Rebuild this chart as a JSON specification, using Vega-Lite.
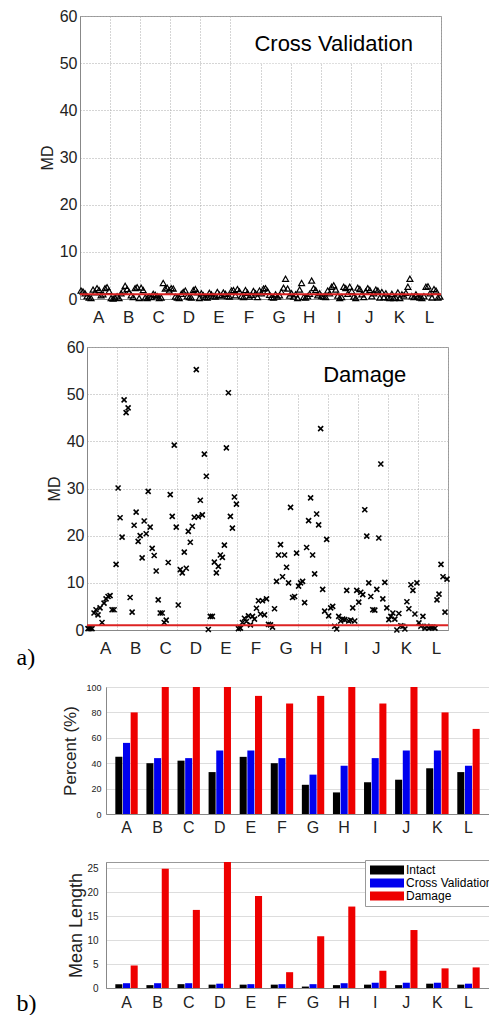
{
"$schema": "https://vega.github.io/schema/vega-lite/v6.json",
"padding": {"top": 7, "left": 15, "right": 0, "bottom": 0},
"spacing": 12,
"config": {
  "font": "Liberation Sans",
  "view": {"stroke": "#999", "strokeWidth": 1},
  "axis": {"labelFont": "Liberation Sans", "titleFont": "Liberation Sans", "labelColor": "#222", "titleColor": "#222", "titleFontWeight": "normal", "domainColor": "#888"}
},
"resolve": {"scale": {"color": "independent"}, "legend": {"color": "independent"}},
"datasets": {
"cv": [
{"x":0,"y":1.8},{"x":1,"y":1.6},{"x":2,"y":1.2},{"x":3,"y":0.6},{"x":4,"y":0.3},{"x":5,"y":0.2},{"x":6,"y":2.0},{"x":7,"y":1.4},{"x":8,"y":2.3},{"x":9,"y":1.9},{"x":10,"y":0.8},{"x":11,"y":1.0},{"x":12,"y":2.3},{"x":13,"y":2.5},{"x":14,"y":1.7},
{"x":15,"y":0.2},{"x":16,"y":0.1},{"x":17,"y":0.3},{"x":18,"y":0.6},{"x":19,"y":0.2},{"x":20,"y":1.2},{"x":21,"y":1.8},{"x":22,"y":2.8},{"x":23,"y":2.1},{"x":24,"y":1.5},{"x":25,"y":0.8},{"x":26,"y":0.4},{"x":27,"y":2.3},{"x":28,"y":2.5},{"x":29,"y":0.2},
{"x":30,"y":2.4},{"x":31,"y":1.9},{"x":32,"y":0.3},{"x":33,"y":0.2},{"x":34,"y":0.5},{"x":35,"y":0.4},{"x":36,"y":1.1},{"x":37,"y":0.9},{"x":38,"y":0.6},{"x":39,"y":0.2},{"x":40,"y":0.3},{"x":41,"y":3.4},{"x":42,"y":2.2},{"x":43,"y":2.4},{"x":44,"y":1.8},
{"x":45,"y":2.3},{"x":46,"y":2.2},{"x":47,"y":0.5},{"x":48,"y":0.3},{"x":49,"y":0.2},{"x":50,"y":1.1},{"x":51,"y":1.5},{"x":52,"y":1.8},{"x":53,"y":0.6},{"x":54,"y":0.4},{"x":55,"y":0.3},{"x":56,"y":1.9},{"x":57,"y":2.1},{"x":58,"y":1.4},{"x":59,"y":0.2},
{"x":60,"y":1.2},{"x":61,"y":0.8},{"x":62,"y":0.4},{"x":63,"y":0.3},{"x":64,"y":1.3},{"x":65,"y":1.0},{"x":66,"y":0.6},{"x":67,"y":0.5},{"x":68,"y":1.5},{"x":69,"y":0.9},{"x":70,"y":0.7},{"x":71,"y":1.4},{"x":72,"y":1.1},{"x":73,"y":0.6},{"x":74,"y":0.5},
{"x":75,"y":1.8},{"x":76,"y":1.9},{"x":77,"y":0.8},{"x":78,"y":2.1},{"x":79,"y":1.6},{"x":80,"y":0.6},{"x":81,"y":0.4},{"x":82,"y":1.9},{"x":83,"y":1.3},{"x":84,"y":0.5},{"x":85,"y":0.9},{"x":86,"y":1.7},{"x":87,"y":1.2},{"x":88,"y":0.4},{"x":89,"y":1.8},
{"x":90,"y":1.2},{"x":91,"y":2.2},{"x":92,"y":2.3},{"x":93,"y":1.7},{"x":94,"y":0.9},{"x":95,"y":0.4},{"x":96,"y":0.3},{"x":97,"y":1.0},{"x":98,"y":0.5},{"x":99,"y":0.8},{"x":100,"y":1.5},{"x":101,"y":2.4},{"x":102,"y":4.3},{"x":103,"y":2.2},{"x":104,"y":0.7},
{"x":105,"y":1.2},{"x":106,"y":0.5},{"x":107,"y":1.0},{"x":108,"y":0.2},{"x":109,"y":2.0},{"x":110,"y":3.4},{"x":111,"y":0.4},{"x":112,"y":0.3},{"x":113,"y":0.6},{"x":114,"y":1.1},{"x":115,"y":3.9},{"x":116,"y":2.3},{"x":117,"y":1.9},{"x":118,"y":0.8},{"x":119,"y":1.2},
{"x":120,"y":0.6},{"x":121,"y":0.5},{"x":122,"y":0.4},{"x":123,"y":1.8},{"x":124,"y":1.2},{"x":125,"y":2.6},{"x":126,"y":2.9},{"x":127,"y":2.0},{"x":128,"y":0.7},{"x":129,"y":0.2},{"x":130,"y":0.4},{"x":131,"y":2.6},{"x":132,"y":2.3},{"x":133,"y":1.1},{"x":134,"y":2.6},
{"x":135,"y":1.7},{"x":136,"y":0.5},{"x":137,"y":0.2},{"x":138,"y":2.4},{"x":139,"y":2.1},{"x":140,"y":1.0},{"x":141,"y":0.4},{"x":142,"y":1.6},{"x":143,"y":2.3},{"x":144,"y":1.9},{"x":145,"y":0.6},{"x":146,"y":1.2},{"x":147,"y":2.0},{"x":148,"y":1.8},{"x":149,"y":0.3},
{"x":150,"y":1.5},{"x":151,"y":0.4},{"x":152,"y":1.2},{"x":153,"y":0.3},{"x":154,"y":0.2},{"x":155,"y":1.1},{"x":156,"y":0.2},{"x":157,"y":0.3},{"x":158,"y":1.4},{"x":159,"y":0.2},{"x":160,"y":1.0},{"x":161,"y":0.7},{"x":162,"y":1.3},{"x":163,"y":2.6},{"x":164,"y":4.3},
{"x":165,"y":0.6},{"x":166,"y":0.4},{"x":167,"y":1.0},{"x":168,"y":0.5},{"x":169,"y":0.3},{"x":170,"y":0.2},{"x":171,"y":0.6},{"x":172,"y":2.6},{"x":173,"y":2.7},{"x":174,"y":1.2},{"x":175,"y":0.3},{"x":176,"y":2.1},{"x":177,"y":1.8},{"x":178,"y":0.3},{"x":179,"y":0.5}
],
"dmg": [
{"x":0,"y":0.3},{"x":1,"y":0.3},{"x":2,"y":0.3},{"x":3,"y":3.6},{"x":4,"y":4.3},{"x":5,"y":3.2},{"x":6,"y":4.7},{"x":7,"y":1.6},{"x":8,"y":5.7},{"x":9,"y":6.6},{"x":10,"y":7.1},{"x":11,"y":7.3},{"x":12,"y":4.3},{"x":13,"y":4.3},{"x":14,"y":13.9},
{"x":15,"y":30.1},{"x":16,"y":23.8},{"x":17,"y":19.7},{"x":18,"y":48.8},{"x":19,"y":46.1},{"x":20,"y":47.1},{"x":21,"y":6.9},{"x":22,"y":3.8},{"x":23,"y":22.2},{"x":24,"y":25.0},{"x":25,"y":18.8},{"x":26,"y":20.0},{"x":27,"y":15.3},{"x":28,"y":23.1},{"x":29,"y":20.4},
{"x":30,"y":29.4},{"x":31,"y":21.8},{"x":32,"y":17.3},{"x":33,"y":15.8},{"x":34,"y":12.5},{"x":35,"y":6.4},{"x":36,"y":3.6},{"x":37,"y":3.6},{"x":38,"y":1.6},{"x":39,"y":2.1},{"x":40,"y":14.3},{"x":41,"y":28.7},{"x":42,"y":24.1},{"x":43,"y":39.2},{"x":44,"y":21.8},
{"x":45,"y":5.3},{"x":46,"y":12.8},{"x":47,"y":12.1},{"x":48,"y":16.5},{"x":49,"y":13.1},{"x":50,"y":20.9},{"x":51,"y":18.6},{"x":52,"y":22.0},{"x":53,"y":23.9},{"x":54,"y":55.2},{"x":55,"y":24.0},{"x":56,"y":27.5},{"x":57,"y":24.4},{"x":58,"y":37.3},{"x":59,"y":32.6},
{"x":60,"y":0.1},{"x":61,"y":2.9},{"x":62,"y":2.9},{"x":63,"y":14.4},{"x":64,"y":12.1},{"x":65,"y":13.5},{"x":66,"y":15.9},{"x":67,"y":15.4},{"x":68,"y":18.0},{"x":69,"y":38.6},{"x":70,"y":50.3},{"x":71,"y":24.1},{"x":72,"y":21.6},{"x":73,"y":28.2},{"x":74,"y":26.7},
{"x":75,"y":0.3},{"x":76,"y":0.4},{"x":77,"y":1.6},{"x":78,"y":2.5},{"x":79,"y":1.8},{"x":80,"y":3.0},{"x":81,"y":1.1},{"x":82,"y":2.9},{"x":83,"y":2.3},{"x":84,"y":4.6},{"x":85,"y":6.2},{"x":86,"y":3.4},{"x":87,"y":6.2},{"x":88,"y":3.2},{"x":89,"y":6.6},
{"x":90,"y":1.2},{"x":91,"y":1.1},{"x":92,"y":0.6},{"x":93,"y":4.5},{"x":94,"y":10.3},{"x":95,"y":15.9},{"x":96,"y":18.1},{"x":97,"y":11.3},{"x":98,"y":15.9},{"x":99,"y":13.3},{"x":100,"y":10.0},{"x":101,"y":26.0},{"x":102,"y":6.9},{"x":103,"y":7.1},{"x":104,"y":16.3},
{"x":105,"y":9.3},{"x":106,"y":10.0},{"x":107,"y":10.3},{"x":108,"y":5.8},{"x":109,"y":17.5},{"x":110,"y":23.2},{"x":111,"y":28.0},{"x":112,"y":15.9},{"x":113,"y":11.9},{"x":114,"y":24.6},{"x":115,"y":22.3},{"x":116,"y":42.7},{"x":117,"y":8.6},{"x":118,"y":4.0},{"x":119,"y":19.2},
{"x":120,"y":3.0},{"x":121,"y":4.7},{"x":122,"y":5.0},{"x":123,"y":0.8},{"x":124,"y":0.2},{"x":125,"y":2.9},{"x":126,"y":1.9},{"x":127,"y":2.3},{"x":128,"y":2.2},{"x":129,"y":8.4},{"x":130,"y":1.9},{"x":131,"y":2.1},{"x":132,"y":4.7},{"x":133,"y":1.9},{"x":134,"y":8.4},
{"x":135,"y":5.9},{"x":136,"y":8.0},{"x":137,"y":7.5},{"x":138,"y":25.5},{"x":139,"y":19.9},{"x":140,"y":10.0},{"x":141,"y":7.1},{"x":142,"y":4.3},{"x":143,"y":4.2},{"x":144,"y":8.6},{"x":145,"y":19.5},{"x":146,"y":35.2},{"x":147,"y":6.6},{"x":148,"y":10.1},{"x":149,"y":4.7},
{"x":150,"y":2.2},{"x":151,"y":2.9},{"x":152,"y":3.6},{"x":153,"y":2.3},{"x":154,"y":0.0},{"x":155,"y":3.5},{"x":156,"y":0.9},{"x":157,"y":0.8},{"x":158,"y":0.2},{"x":159,"y":6.0},{"x":160,"y":4.5},{"x":161,"y":9.6},{"x":162,"y":8.4},{"x":163,"y":3.4},{"x":164,"y":10.0},
{"x":165,"y":1.5},{"x":166,"y":0.8},{"x":167,"y":2.9},{"x":168,"y":0.4},{"x":169,"y":0.8},{"x":170,"y":0.4},{"x":171,"y":0.6},{"x":172,"y":0.6},{"x":173,"y":0.4},{"x":174,"y":6.4},{"x":175,"y":7.6},{"x":176,"y":13.9},{"x":177,"y":11.3},{"x":178,"y":3.8},{"x":179,"y":10.8}
],
"pct": [
{"g":"A","s":"Intact","v":45},{"g":"A","s":"Cross Validation","v":56},{"g":"A","s":"Damage","v":80},
{"g":"B","s":"Intact","v":40},{"g":"B","s":"Cross Validation","v":44},{"g":"B","s":"Damage","v":100},
{"g":"C","s":"Intact","v":42},{"g":"C","s":"Cross Validation","v":44},{"g":"C","s":"Damage","v":100},
{"g":"D","s":"Intact","v":33},{"g":"D","s":"Cross Validation","v":50},{"g":"D","s":"Damage","v":100},
{"g":"E","s":"Intact","v":45},{"g":"E","s":"Cross Validation","v":50},{"g":"E","s":"Damage","v":93},
{"g":"F","s":"Intact","v":40},{"g":"F","s":"Cross Validation","v":44},{"g":"F","s":"Damage","v":87},
{"g":"G","s":"Intact","v":23},{"g":"G","s":"Cross Validation","v":31},{"g":"G","s":"Damage","v":93},
{"g":"H","s":"Intact","v":17},{"g":"H","s":"Cross Validation","v":38},{"g":"H","s":"Damage","v":100},
{"g":"I","s":"Intact","v":25},{"g":"I","s":"Cross Validation","v":44},{"g":"I","s":"Damage","v":87},
{"g":"J","s":"Intact","v":27},{"g":"J","s":"Cross Validation","v":50},{"g":"J","s":"Damage","v":100},
{"g":"K","s":"Intact","v":36},{"g":"K","s":"Cross Validation","v":50},{"g":"K","s":"Damage","v":80},
{"g":"L","s":"Intact","v":33},{"g":"L","s":"Cross Validation","v":38},{"g":"L","s":"Damage","v":67}
],
"len": [
{"g":"A","s":"Intact","v":0.8},{"g":"A","s":"Cross Validation","v":1.0},{"g":"A","s":"Damage","v":4.7},
{"g":"B","s":"Intact","v":0.6},{"g":"B","s":"Cross Validation","v":1.0},{"g":"B","s":"Damage","v":24.9},
{"g":"C","s":"Intact","v":0.8},{"g":"C","s":"Cross Validation","v":1.0},{"g":"C","s":"Damage","v":16.3},
{"g":"D","s":"Intact","v":0.7},{"g":"D","s":"Cross Validation","v":0.9},{"g":"D","s":"Damage","v":26.3},
{"g":"E","s":"Intact","v":0.7},{"g":"E","s":"Cross Validation","v":0.8},{"g":"E","s":"Damage","v":19.2},
{"g":"F","s":"Intact","v":0.7},{"g":"F","s":"Cross Validation","v":0.8},{"g":"F","s":"Damage","v":3.3},
{"g":"G","s":"Intact","v":0.3},{"g":"G","s":"Cross Validation","v":0.8},{"g":"G","s":"Damage","v":10.8},
{"g":"H","s":"Intact","v":0.6},{"g":"H","s":"Cross Validation","v":1.0},{"g":"H","s":"Damage","v":17.0},
{"g":"I","s":"Intact","v":0.7},{"g":"I","s":"Cross Validation","v":1.1},{"g":"I","s":"Damage","v":3.6},
{"g":"J","s":"Intact","v":0.6},{"g":"J","s":"Cross Validation","v":1.1},{"g":"J","s":"Damage","v":12.1},
{"g":"K","s":"Intact","v":0.9},{"g":"K","s":"Cross Validation","v":1.1},{"g":"K","s":"Damage","v":4.1},
{"g":"L","s":"Intact","v":0.7},{"g":"L","s":"Cross Validation","v":0.9},{"g":"L","s":"Damage","v":4.3}
]
},
"vconcat": [
{
  "width": 361, "height": 283,
  "encoding": {
    "x": {"field": "x", "type": "quantitative", "scale": {"domain": [-0.5, 179.5], "nice": false, "zero": false},
      "axis": {"values": [-0.5, 8.5, 14.5, 23.5, 29.5, 38.5, 44.5, 53.5, 59.5, 68.5, 74.5, 83.5, 89.5, 98.5, 104.5, 113.5, 119.5, 128.5, 134.5, 143.5, 149.5, 158.5, 164.5, 173.5, 179.5],
        "labelExpr": "(datum.value + 0.5) % 15 === 9 ? ['A','B','C','D','E','F','G','H','I','J','K','L'][floor((datum.value + 0.5) / 15)] : ''",
        "grid": true, "gridColor": "#aaa", "gridDash": [1, 2],
        "gridOpacity": {"condition": {"test": "(datum.value + 0.5) % 15 === 0", "value": 1}, "value": 0},
        "ticks": false, "labelPadding": 10, "labelFontSize": 17, "labelOverlap": false, "labelBound": false, "labelFlush": false,
        "title": " ", "titleX": -64, "titleY": -20, "titleAlign": "left", "titleFontSize": 10}},
    "y": {"field": "y", "type": "quantitative", "scale": {"domain": [0, 60], "nice": false},
      "axis": {"values": [0, 10, 20, 30, 40, 50, 60], "grid": true, "gridColor": "#aaa", "gridDash": [1, 2], "ticks": false, "labelPadding": 3, "labelFontSize": 16, "labelFlush": false, "title": "MD", "titleFontSize": 16, "titlePadding": 4}}
  },
  "layer": [
    {"data": {"values": [{"x": 75, "x2v": 179.1, "y": 50, "y2v": 59.8}]}, "mark": {"type": "rect", "fill": "white"}, "encoding": {"x2": {"field": "x2v"}, "y2": {"field": "y2v"}}},
    {"data": {"name": "cv"}, "mark": {"type": "point", "shape": "triangle-up", "filled": false, "stroke": "black", "strokeWidth": 1.2, "size": 35, "opacity": 1}},
    {"data": {"values": [{"x": -0.5, "x2v": 179.5, "y": 1.0}]}, "mark": {"type": "rule", "color": "#dd2222", "strokeWidth": 2}, "encoding": {"x2": {"field": "x2v"}}},
    {"data": {"values": [{"x": 126, "y": 54, "label": "Cross Validation"}]}, "mark": {"type": "text", "fontSize": 22, "font": "Liberation Sans", "color": "black", "align": "center", "baseline": "middle"}, "encoding": {"text": {"field": "label"}}}
  ]
},
{
  "bounds": "flush",
  "spacing": 0,
  "hconcat": [
    {"width": 7, "height": 1, "data": {"values": [{"k": 1}]}, "mark": {"type": "point", "opacity": 0}, "view": {"stroke": null}},
    {
      "width": 361, "height": 283,
      "encoding": {
        "x": {"field": "x", "type": "quantitative", "scale": {"domain": [-0.5, 179.5], "nice": false, "zero": false},
          "axis": {"values": [-0.5, 8.5, 14.5, 23.5, 29.5, 38.5, 44.5, 53.5, 59.5, 68.5, 74.5, 83.5, 89.5, 98.5, 104.5, 113.5, 119.5, 128.5, 134.5, 143.5, 149.5, 158.5, 164.5, 173.5, 179.5],
            "labelExpr": "(datum.value + 0.5) % 15 === 9 ? ['A','B','C','D','E','F','G','H','I','J','K','L'][floor((datum.value + 0.5) / 15)] : ''",
            "grid": true, "gridColor": "#aaa", "gridDash": [1, 2],
            "gridOpacity": {"condition": {"test": "(datum.value + 0.5) % 15 === 0", "value": 1}, "value": 0},
            "ticks": false, "labelPadding": 10, "labelFontSize": 17, "labelOverlap": false, "labelBound": false, "labelFlush": false,
            "title": "a)", "titleX": -71, "titleY": 34, "titleAlign": "left", "titleBaseline": "alphabetic", "titleFont": "Liberation Serif", "titleFontSize": 24, "titleColor": "black"}},
        "y": {"field": "y", "type": "quantitative", "scale": {"domain": [0, 60], "nice": false},
          "axis": {"values": [0, 10, 20, 30, 40, 50, 60], "grid": true, "gridColor": "#aaa", "gridDash": [1, 2], "ticks": false, "labelPadding": 3, "labelFontSize": 16, "labelFlush": false, "title": "MD", "titleFontSize": 16, "titlePadding": 4}}
      },
      "layer": [
        {"data": {"values": [{"x": 101, "x2v": 179.1, "y": 50, "y2v": 59.8}]}, "mark": {"type": "rect", "fill": "white"}, "encoding": {"x2": {"field": "x2v"}, "y2": {"field": "y2v"}}},
        {"data": {"name": "dmg"}, "mark": {"type": "point", "shape": "M-1,-1L1,1M-1,1L1,-1", "filled": false, "stroke": "black", "strokeWidth": 1.6, "size": 25, "opacity": 1}},
        {"data": {"values": [{"x": -0.5, "x2v": 179.5, "y": 1.0}]}, "mark": {"type": "rule", "color": "#dd2222", "strokeWidth": 2}, "encoding": {"x2": {"field": "x2v"}}},
        {"data": {"values": [{"x": 138, "y": 54, "label": "Damage"}]}, "mark": {"type": "text", "fontSize": 22, "font": "Liberation Sans", "color": "black", "align": "center", "baseline": "middle"}, "encoding": {"text": {"field": "label"}}}
      ]
    }
  ]
},
{
  "bounds": "flush",
  "spacing": 0,
  "hconcat": [
    {"width": 26, "height": 1, "data": {"values": [{"k": 1}]}, "mark": {"type": "point", "opacity": 0}, "view": {"stroke": null}},
    {
      "width": 383, "height": 127,
      "data": {"name": "pct"},
      "mark": {"type": "bar"},
      "encoding": {
        "x": {"field": "g", "type": "nominal", "scale": {"paddingInner": 0.28, "paddingOuter": 0.3},
          "axis": {"labelAngle": 0, "ticks": false, "labelPadding": 5, "labelFontSize": 16, "grid": false,
            "title": " ", "titleX": -90, "titleY": 32, "titleBaseline": "bottom", "titleAlign": "left", "titleFontSize": 10}},
        "xOffset": {"field": "s", "type": "nominal", "sort": ["Intact", "Cross Validation", "Damage"], "scale": {"paddingInner": 0.08}},
        "y": {"field": "v", "type": "quantitative", "scale": {"domain": [0, 100], "nice": false},
          "axis": {"values": [0, 20, 40, 60, 80, 100], "grid": true, "gridColor": "#ddd", "ticks": false, "labelPadding": 5, "labelFontSize": 9, "labelFlush": false, "title": "Percent (%)", "titleFontSize": 17, "titlePadding": 6}},
        "color": {"field": "s", "type": "nominal", "scale": {"domain": ["Intact", "Cross Validation", "Damage"], "range": ["#000000", "#0000ee", "#ee0000"]}, "legend": null}
      }
    }
  ]
},
{
  "bounds": "flush",
  "spacing": 0,
  "hconcat": [
    {"width": 26, "height": 1, "data": {"values": [{"k": 1}]}, "mark": {"type": "point", "opacity": 0}, "view": {"stroke": null}},
    {
      "width": 383, "height": 126,
      "data": {"name": "len"},
      "mark": {"type": "bar"},
      "encoding": {
        "x": {"field": "g", "type": "nominal", "scale": {"paddingInner": 0.28, "paddingOuter": 0.3},
          "axis": {"labelAngle": 0, "ticks": false, "labelPadding": 6, "labelFontSize": 16, "grid": false,
            "title": "b)", "titleX": -90, "titleY": 22, "titleAlign": "left", "titleBaseline": "alphabetic", "titleFont": "Liberation Serif", "titleFontSize": 24, "titleColor": "black"}},
        "xOffset": {"field": "s", "type": "nominal", "sort": ["Intact", "Cross Validation", "Damage"], "scale": {"paddingInner": 0.08}},
        "y": {"field": "v", "type": "quantitative", "scale": {"domain": [0, 26.3], "nice": false},
          "axis": {"values": [0, 5, 10, 15, 20, 25], "grid": true, "gridColor": "#ddd", "ticks": false, "labelPadding": 8, "labelFontSize": 10, "labelFlush": false, "title": "Mean Length", "titleFontSize": 18, "titlePadding": 1}},
        "color": {"field": "s", "type": "nominal", "scale": {"domain": ["Intact", "Cross Validation", "Damage"], "range": ["#000000", "#0000ee", "#ee0000"]},
          "legend": {"orient": "none", "legendX": 285, "legendY": -2, "title": null, "symbolType": "M-3.4,-0.9H3.4V0.9H-3.4Z", "symbolSize": 100, "symbolStrokeWidth": 0, "symbolOffset": 12, "labelOffset": 13, "labelFontSize": 12, "labelFont": "Liberation Sans", "fillColor": "white", "strokeColor": "#999", "padding": 4, "rowPadding": 1}}
      }
    }
  ]
}
]
}
